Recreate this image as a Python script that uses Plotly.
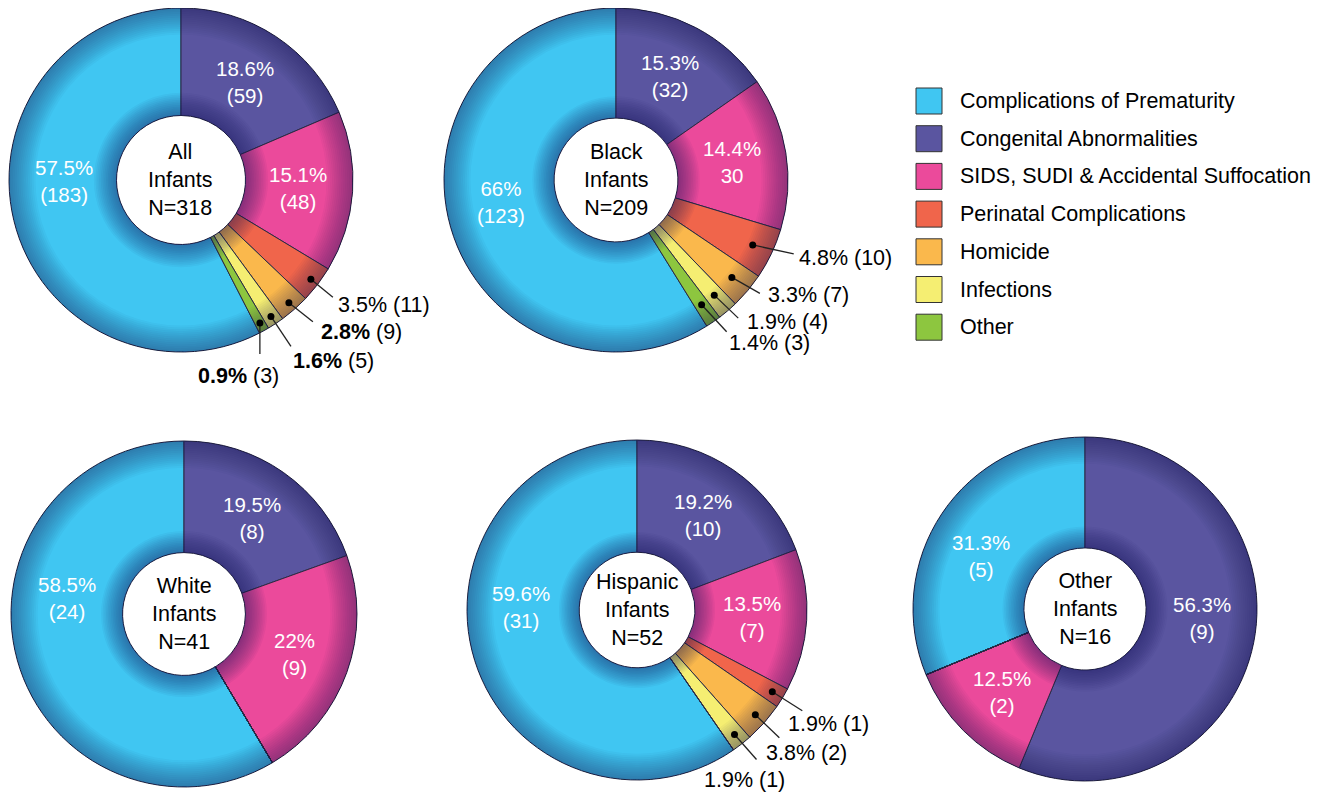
import math
import plotly.graph_objects as go

# page body has an 8px margin: figure is drawn 8px in from the window edge
OFF = 8
W, H = 1333 - OFF, 792 - OFF

# ---------------- data ----------------
categories = ["Complications of Prematurity", "Congenital Abnormalities",
              "SIDS, SUDI & Accidental Suffocation", "Perinatal Complications",
              "Homicide", "Infections", "Other"]
colors = ["#40C6F2", "#5A55A0", "#EB4A9B", "#F0654B", "#FAB84C", "#F5EE72", "#8DC63F"]

groups = ["All", "Black", "White", "Hispanic", "Other"]

all_counts = [183, 59, 48, 11, 9, 5, 3]
all_pct = ["57.5%", "18.6%", "15.1%", "3.5%", "2.8%", "1.6%", "0.9%"]
black_counts = [123, 32, 30, 10, 7, 4, 3]
black_pct = ["66%", "15.3%", "14.4%", "4.8%", "3.3%", "1.9%", "1.4%"]
white_counts = [24, 8, 9, 0, 0, 0, 0]
white_pct = ["58.5%", "19.5%", "22%", "", "", "", ""]
hispanic_counts = [31, 10, 7, 1, 2, 1, 0]
hispanic_pct = ["59.6%", "19.2%", "13.5%", "1.9%", "3.8%", "1.9%", ""]
other_counts = [5, 9, 2, 0, 0, 0, 0]
other_pct = ["31.3%", "56.3%", "12.5%", "", "", "", ""]

counts = {"All": all_counts, "Black": black_counts, "White": white_counts,
          "Hispanic": hispanic_counts, "Other": other_counts}
pcts = {"All": all_pct, "Black": black_pct, "White": white_pct,
        "Hispanic": hispanic_pct, "Other": other_pct}
# callouts whose percentage is printed in bold
bold_pct = {"All": [4, 5, 6]}
# slice labels printed without parentheses around the count
no_paren = {"Black": [2]}

# ---------------- layout / style ----------------
FONT = "Liberation Sans, Arial, Helvetica, sans-serif"
PIES = {
    "All":      dict(cx=181, cy=180, r=172, hole=0.375, dot=0.95),
    "Black":    dict(cx=616, cy=180, r=172, hole=0.36, dot=0.88),
    "White":    dict(cx=184, cy=614, r=173, hole=0.355, dot=0.93),
    "Hispanic": dict(cx=637, cy=610, r=170, hole=0.34, dot=0.93),
    "Other":    dict(cx=1085, cy=609, r=172, hole=0.355, dot=0.93),
}
LABEL_R = 0.68
# angular nudges (deg) for a few inside labels
LABEL_NUDGE = {("All", 0): 13, ("Black", 0): 5, ("White", 0): 23,
               ("Hispanic", 0): 19, ("Other", 0): -7, ("Other", 1): -7}
# callout: (line dx, line dy, text anchor, text dx, text dy) in px
CALLOUTS = {
    "All": {3: (22, 18, "left", 3, 8), 4: (24, 19, "left", 6, 10),
            5: (20, 30, "left", 0, 15), 6: (0, 31, "center", -21, 22)},
    "Black": {3: (41, 9, "left", 3, 4), 4: (28, 16, "left", 6, 2),
              5: (24, 23, "left", 7, 4), 6: (25, 27, "left", 0, 11)},
    "Hispanic": {3: (30, 19, "center", 26, 13), 4: (24, 23, "center", 27, 15),
                 5: (22, 25, "center", -12, 21)},
}


def px(x):
    return (x - OFF) / W


def py(y):
    return 1 - (y - OFF) / H


def clamp(v):
    return min(1.0, max(0.0, v))


def dom(cx, cy, r):
    return dict(x=[clamp(px(cx - r)), clamp(px(cx + r))],
                y=[clamp(py(cy + r)), clamp(py(cy - r))])


def mid_angles(vals):
    tot = sum(vals)
    out, acc = {}, 0
    for i in list(range(1, len(vals))) + [0]:
        a0 = acc / tot * 360
        acc += vals[i]
        out[i] = (a0 + acc / tot * 360) / 2
    return out


def polar(g, frac, ang):
    a = math.radians(ang)
    return g["cx"] + frac * g["r"] * math.sin(a), g["cy"] - frac * g["r"] * math.cos(a)


SHADE = "rgba(30,28,95,{})"

fig = go.Figure()
shapes, annotations = [], []

for name in groups:
    g = PIES[name]
    vals = counts[name]
    tot = sum(vals)
    fig.add_trace(go.Pie(
        values=vals, labels=categories, sort=False, direction="clockwise",
        rotation=-360 * vals[0] / tot, hole=g["hole"],
        domain=dom(g["cx"], g["cy"], g["r"]),
        marker=dict(colors=colors, line=dict(color="#2a2a44", width=1)),
        textinfo="none", hoverinfo="label+value+percent", showlegend=False,
        name=name + " Infants"))

    # soft shading rings (outer rim and around the hole)
    R = g["r"]
    for k in range(1, 15):
        fig.add_trace(go.Pie(values=[1], sort=False, hole=1 - 0.011 * k,
                             domain=dom(g["cx"], g["cy"], R),
                             marker=dict(colors=[SHADE.format(0.036)], line=dict(width=0)),
                             textinfo="none", hoverinfo="skip", showlegend=False))
    rh = g["hole"] * R
    for k in range(1, 14):
        ro = rh * (1 + 0.027 * k)
        fig.add_trace(go.Pie(values=[1], sort=False, hole=rh / ro,
                             domain=dom(g["cx"], g["cy"], ro),
                             marker=dict(colors=[SHADE.format(0.042)], line=dict(width=0)),
                             textinfo="none", hoverinfo="skip", showlegend=False))

    mids = mid_angles(vals)
    # labels inside the big slices
    for i in range(3):
        if vals[i] == 0:
            continue
        x, y = polar(g, LABEL_R, mids[i] + LABEL_NUDGE.get((name, i), 0))
        if i in no_paren.get(name, []):
            txt = f"{pcts[name][i]}<br>{vals[i]}"
        else:
            txt = f"{pcts[name][i]}<br>({vals[i]})"
        annotations.append(dict(text=txt, x=px(x), y=py(y), xref="paper", yref="paper",
                                xanchor="center", yanchor="middle", showarrow=False,
                                font=dict(family=FONT, size=20.5, color="white")))
    # callouts for the small slices
    for i, (ldx, ldy, anc, tdx, tdy) in CALLOUTS.get(name, {}).items():
        if vals[i] == 0:
            continue
        x, y = polar(g, g["dot"], mids[i])
        ex, ey = x + ldx, y + ldy
        shapes.append(dict(type="line", xref="paper", yref="paper",
                           x0=px(x), y0=py(y), x1=px(ex), y1=py(ey),
                           line=dict(color="#222", width=1.3)))
        shapes.append(dict(type="circle", xref="paper", yref="paper",
                           xsizemode="pixel", ysizemode="pixel",
                           xanchor=px(x), yanchor=py(y), x0=-3.5, x1=3.5, y0=-3.5, y1=3.5,
                           fillcolor="black", line=dict(width=0)))
        p = pcts[name][i]
        if i in bold_pct.get(name, []):
            p = f"<b>{p}</b>"
        annotations.append(dict(text=f"{p} ({vals[i]})", x=px(ex + tdx), y=py(ey + tdy),
                                xref="paper", yref="paper", xanchor=anc, yanchor="middle",
                                showarrow=False, font=dict(family=FONT, size=21.5, color="black")))
    # centre text
    annotations.append(dict(text=f"{name}<br>Infants<br>N={tot}", x=px(g["cx"]), y=py(g["cy"]),
                            xref="paper", yref="paper", xanchor="center", yanchor="middle",
                            showarrow=False, font=dict(family=FONT, size=21.5, color="black")))

# legend
for k, (cat, col) in enumerate(zip(categories, colors)):
    yc = 101 + k * 37.7
    shapes.append(dict(type="rect", xref="paper", yref="paper",
                       x0=px(916), x1=px(942), y0=py(yc + 13), y1=py(yc - 13),
                       fillcolor=col, line=dict(color="#333", width=1)))
    annotations.append(dict(text=cat, x=px(958), y=py(yc), xref="paper", yref="paper",
                            xanchor="left", yanchor="middle", showarrow=False,
                            font=dict(family=FONT, size=21.5, color="black")))

fig.update_layout(width=W, height=H, margin=dict(l=0, r=0, t=0, b=0),
                  paper_bgcolor="white", plot_bgcolor="white",
                  shapes=shapes, annotations=annotations, showlegend=False)
fig.write_html("out.html")
